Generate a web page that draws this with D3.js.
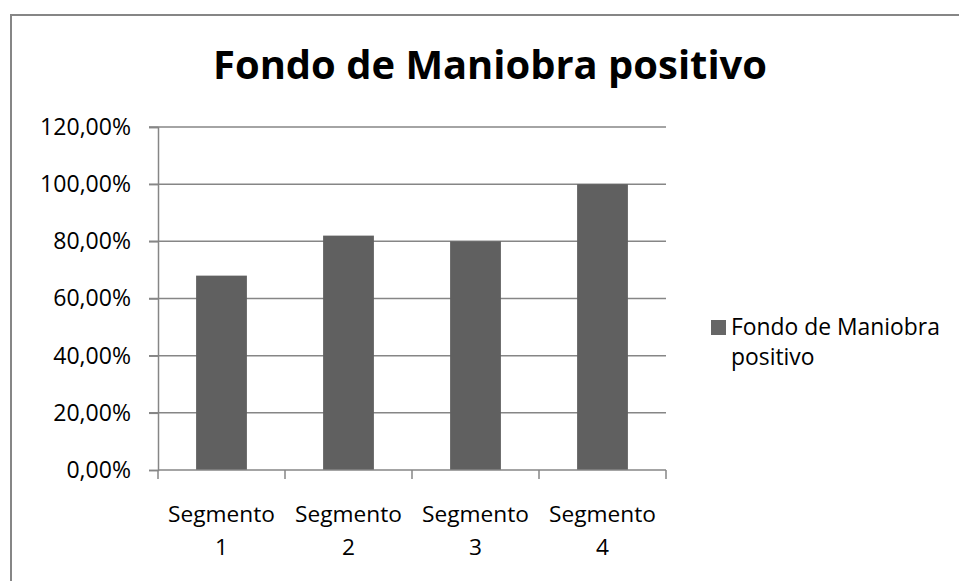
<!DOCTYPE html>
<html>
<head>
<meta charset="utf-8">
<script src="https://cdn.jsdelivr.net/npm/d3@7"></script>
<style>
  body { margin: 0; background: #fff; }
  svg { display: block; }
  text { font-family: "Open Sans", "Noto Sans", sans-serif; fill: #000; }
</style>
</head>
<body>
<div id="chart"></div>
<script>
const categories = ["Segmento 1", "Segmento 2", "Segmento 3", "Segmento 4"];
const values = [0.68, 0.82, 0.80, 1.00];
const yTicks = [0, 0.2, 0.4, 0.6, 0.8, 1.0, 1.2];
const seriesName = "Fondo de Maniobra positivo";
const title = "Fondo de Maniobra positivo";

const width = 959, height = 581;
const plot = { left: 158, right: 666, top: 127, bottom: 470 };
const grey = "#868686";
const barColor = "#606060";

const svg = d3.select("#chart").append("svg")
    .attr("width", width)
    .attr("height", height);

// font size that makes a text fill a given width
function fitSize(sel, target) {
    const size = parseFloat(sel.attr("font-size"));
    return size * target / sel.node().getComputedTextLength();
}

// chart border (runs off the right and bottom of the picture)
svg.append("rect")
    .attr("x", 11).attr("y", 15)
    .attr("width", width).attr("height", height)
    .attr("fill", "none")
    .attr("stroke", grey)
    .attr("stroke-width", 2);

const x = d3.scaleBand()
    .domain(categories)
    .range([plot.left, plot.right])
    .paddingInner(0.6)
    .paddingOuter(0.3);

const y = d3.scaleLinear()
    .domain([0, 1.2])
    .range([plot.bottom, plot.top]);

// gridlines
svg.append("g")
    .selectAll("line")
    .data(yTicks.filter(d => d > 0))
    .join("line")
      .attr("x1", plot.left - 9)
      .attr("x2", plot.right)
      .attr("y1", d => y(d))
      .attr("y2", d => y(d))
      .attr("stroke", grey)
      .attr("stroke-width", 1.5);

// bars
svg.append("g")
    .selectAll("rect")
    .data(values)
    .join("rect")
      .attr("x", (d, i) => x(categories[i]))
      .attr("y", d => y(d))
      .attr("width", x.bandwidth())
      .attr("height", d => y(0) - y(d))
      .attr("fill", barColor);

// y axis
const yAxis = svg.append("g")
    .attr("transform", `translate(${plot.left},0)`)
    .call(d3.axisLeft(y)
        .tickValues(yTicks)
        .tickSize(9)
        .tickPadding(18)
        .tickFormat(d => d3.format(".2f")(d * 100).replace(".", ",") + "%"));
yAxis.select(".domain").attr("stroke", grey).attr("stroke-width", 1.5);
yAxis.selectAll(".tick line").attr("stroke", grey).attr("stroke-width", 1.5);
const yLabels = yAxis.selectAll(".tick text")
    .attr("font-size", 20)
    .attr("font-family", "Open Sans")
    .attr("fill", "#000");
const yFont = fitSize(yLabels.filter(d => d === 1.2), 91);
yLabels.attr("font-size", yFont);

// x axis
const xAxisG = svg.append("g")
    .attr("transform", `translate(0,${plot.bottom})`);
xAxisG.append("line")
    .attr("x1", plot.left).attr("x2", plot.right)
    .attr("stroke", grey).attr("stroke-width", 1.5);
xAxisG.selectAll("line.tick")
    .data(d3.range(categories.length + 1))
    .join("line")
      .attr("class", "tick")
      .attr("x1", i => plot.left + i * x.step())
      .attr("x2", i => plot.left + i * x.step())
      .attr("y1", 0).attr("y2", 9)
      .attr("stroke", grey).attr("stroke-width", 1.5);

const xl = xAxisG.selectAll("text.lab")
    .data(categories)
    .join("text")
      .attr("class", "lab")
      .attr("x", d => x(d) + x.bandwidth() / 2)
      .attr("text-anchor", "middle")
      .attr("font-size", 20);
xl.each(function(d) {
    const parts = d.split(" ");
    const t = d3.select(this);
    t.append("tspan").attr("x", t.attr("x")).attr("y", 52).text(parts[0]);
    t.append("tspan").attr("x", t.attr("x")).attr("y", 85).text(parts[1]);
});
const xFont = 20 * 107 / xl.select("tspan").node().getComputedTextLength();
xl.attr("font-size", xFont);

// title
const tt = svg.append("text")
    .attr("x", 490)
    .attr("y", 79)
    .attr("text-anchor", "middle")
    .attr("font-weight", "bold")
    .attr("font-size", 40)
    .text(title);
tt.attr("font-size", fitSize(tt, 554));

// legend
const legend = svg.append("g");
legend.append("rect")
    .attr("x", 711).attr("y", 320)
    .attr("width", 15).attr("height", 15)
    .attr("fill", "#666666");
const lt = legend.append("text")
    .attr("font-size", 20);
const words = seriesName.split(" ");
lt.append("tspan").attr("x", 731).attr("y", 335).text(words.slice(0, 3).join(" "));
lt.append("tspan").attr("x", 731).attr("y", 365).text(words.slice(3).join(" "));
lt.attr("font-size", 20 * 209 / lt.select("tspan").node().getComputedTextLength());
</script>
</body>
</html>
